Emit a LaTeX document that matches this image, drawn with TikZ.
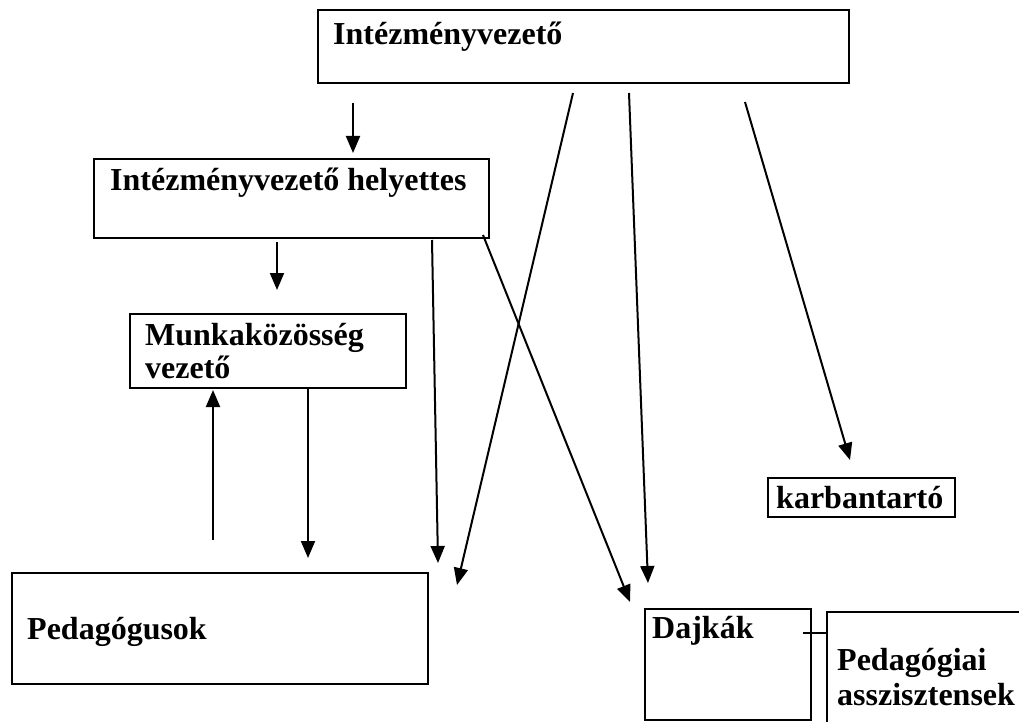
\documentclass[tikz,border=0pt]{standalone}
\usepackage{fontspec}
\setmainfont{Liberation Serif}
\usetikzlibrary{arrows.meta}
\tikzset{
  box/.style={draw=black, line width=2.4pt, inner sep=0pt, outer sep=0pt, anchor=north west},
  lbl/.style={anchor=base west, inner sep=0pt, font=\fontsize{32}{36}\selectfont\bfseries},
  arr/.style={line width=2pt, -{Triangle[length=17pt,width=14pt]}},
  conn/.style={line width=2pt}
}
\begin{document}
\begin{tikzpicture}[x=1pt,y=-1pt]
\useasboundingbox (0,0) rectangle (1019,722);
% boxes
\node[box, minimum width=531pt, minimum height=73pt] (iv) at (318,10) {};
\node[box, minimum width=395pt, minimum height=79pt] (ivh) at (94,159) {};
\node[box, minimum width=276pt, minimum height=74pt] (mkv) at (130,314) {};
\node[box, minimum width=187pt, minimum height=39pt] (kt) at (768,478) {};
\node[box, minimum width=416pt, minimum height=111pt] (ped) at (12,573) {};
\node[box, minimum width=166pt, minimum height=111pt] (dk) at (645,609) {};
\coordinate (pa) at (827,612);
\draw[line width=2.4pt] (1019,612) -- (pa) -- (827,722);
% texts
\node[lbl] (t1) at (333,45) {Intézményvezető};
\node[lbl] (t2) at (110,190) {Intézményvezető helyettes};
\node[lbl] (t3) at (145,345) {Munkaközösség};
\node[lbl] (t3b) at (145,378) {vezető};
\node[lbl] (t4) at (776,508) {karbantartó};
\node[lbl] (t5) at (27,639) {Pedagógusok};
\node[lbl] (t6) at (652,638) {Dajkák};
\node[lbl] (t7) at (837,670) {Pedagógiai};
\node[lbl] (t7b) at (837,705) {asszisztensek};
% connector endpoints
\coordinate (a1s) at (353,103); \coordinate (a1e) at (353,153);
\coordinate (a2s) at (277,242); \coordinate (a2e) at (277,290);
\coordinate (a3s) at (213,540); \coordinate (a3e) at (213,390);
\coordinate (a4s) at (308,389); \coordinate (a4e) at (308,558);
\coordinate (a5s) at (432,240); \coordinate (a5e) at (438,563);
\coordinate (a6s) at (573,93);  \coordinate (a6e) at (457,585);
\coordinate (a7s) at (629,93);  \coordinate (a7e) at (648,583);
\coordinate (a8s) at (745,102); \coordinate (a8e) at (850,460);
\coordinate (a9s) at (483,235); \coordinate (a9e) at (630,602);
\coordinate (ls) at (803,633);  \coordinate (le) at (827,633);
\draw[arr] (a1s) -- (a1e);
\draw[arr] (a2s) -- (a2e);
\draw[arr] (a3s) -- (a3e);
\draw[arr] (a4s) -- (a4e);
\draw[arr] (a5s) -- (a5e);
\draw[arr] (a6s) -- (a6e);
\draw[arr] (a7s) -- (a7e);
\draw[arr] (a8s) -- (a8e);
\draw[arr] (a9s) -- (a9e);
\draw[conn] (ls) -- (le);
\end{tikzpicture}
\end{document}
